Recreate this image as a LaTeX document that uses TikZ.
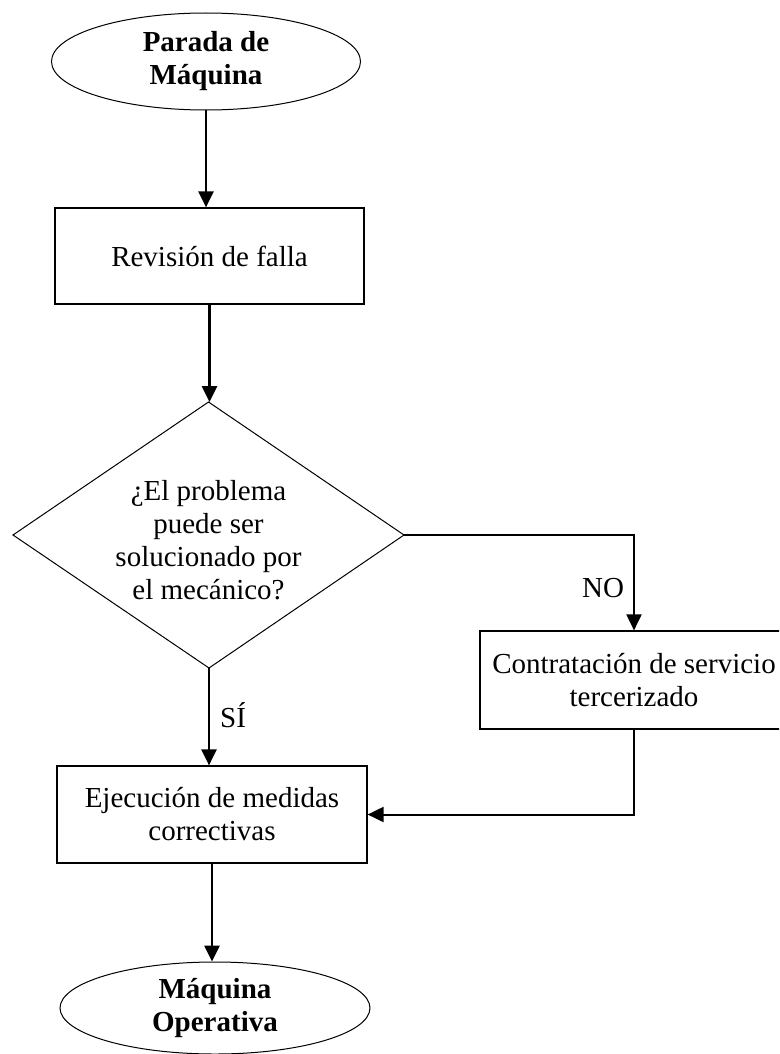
\documentclass[tikz,border=0pt]{standalone}
\usepackage{fontspec}
\setmainfont{Liberation Serif}
\usetikzlibrary{arrows.meta,shapes.geometric}
\begin{document}
\begin{tikzpicture}[x=1pt,y=-1pt,
  base/.style={font=\fontsize{29}{33}\selectfont, align=center, inner sep=0pt},
  proc/.style={base, draw, rectangle, line width=1.2pt},
  term/.style={base, draw, ellipse, line width=1pt, font=\fontsize{29}{33}\selectfont\bfseries},
  arr/.style={line width=2.6pt, -{Triangle[length=16pt,width=15pt]}},
  thinarr/.style={line width=2pt, -{Triangle[length=16pt,width=15pt]}},
  lbl/.style={font=\fontsize{29}{33}\selectfont, inner sep=0pt}]
\useasboundingbox (0,0) rectangle (779,1054);
\clip (0,0) rectangle (779,1054);
\node[term, minimum width=309pt, minimum height=97pt] (top) at (206,61.5) {Parada de\\Máquina};
\node[proc, minimum width=309pt, minimum height=96pt] (rev) at (209.5,256) {Revisión de falla};
\coordinate (dT) at (208.5,402);
\coordinate (dL) at (13,535);
\coordinate (dR) at (404,535);
\coordinate (dB) at (209,668);
\draw[line width=1pt] (dT) -- (dR) -- (dB) -- (dL) -- cycle;
\node[base] (dia) at (208.5,540) {¿El problema\\puede ser\\solucionado por\\el mecánico?};
\node[proc, minimum width=308pt, minimum height=98pt] (cont) at (634,680) {Contratación de servicio\\tercerizado};
\node[proc, minimum width=310pt, minimum height=97pt] (ejec) at (212,814.5) {Ejecución de medidas\\correctivas};
\node[term, minimum width=310pt, minimum height=92pt] (bot) at (215,1008) {Máquina\\Operativa};
\draw[arr] (top.south) -- (top.south |- rev.north);
\draw[arr] (rev.south) -- (rev.south |- dT);
\draw[thinarr] (dR) -| (cont.north);
\draw[arr] (dB) -- (dB |- ejec.north);
\draw[thinarr] (cont.south) |- (ejec.east);
\draw[arr] (ejec.south) -- (ejec.south |- bot.north);
\node[lbl, anchor=base west] (no) at (582,597) {NO};
\node[lbl, anchor=base west] (si) at (220,727) {SÍ};
\end{tikzpicture}
\end{document}
